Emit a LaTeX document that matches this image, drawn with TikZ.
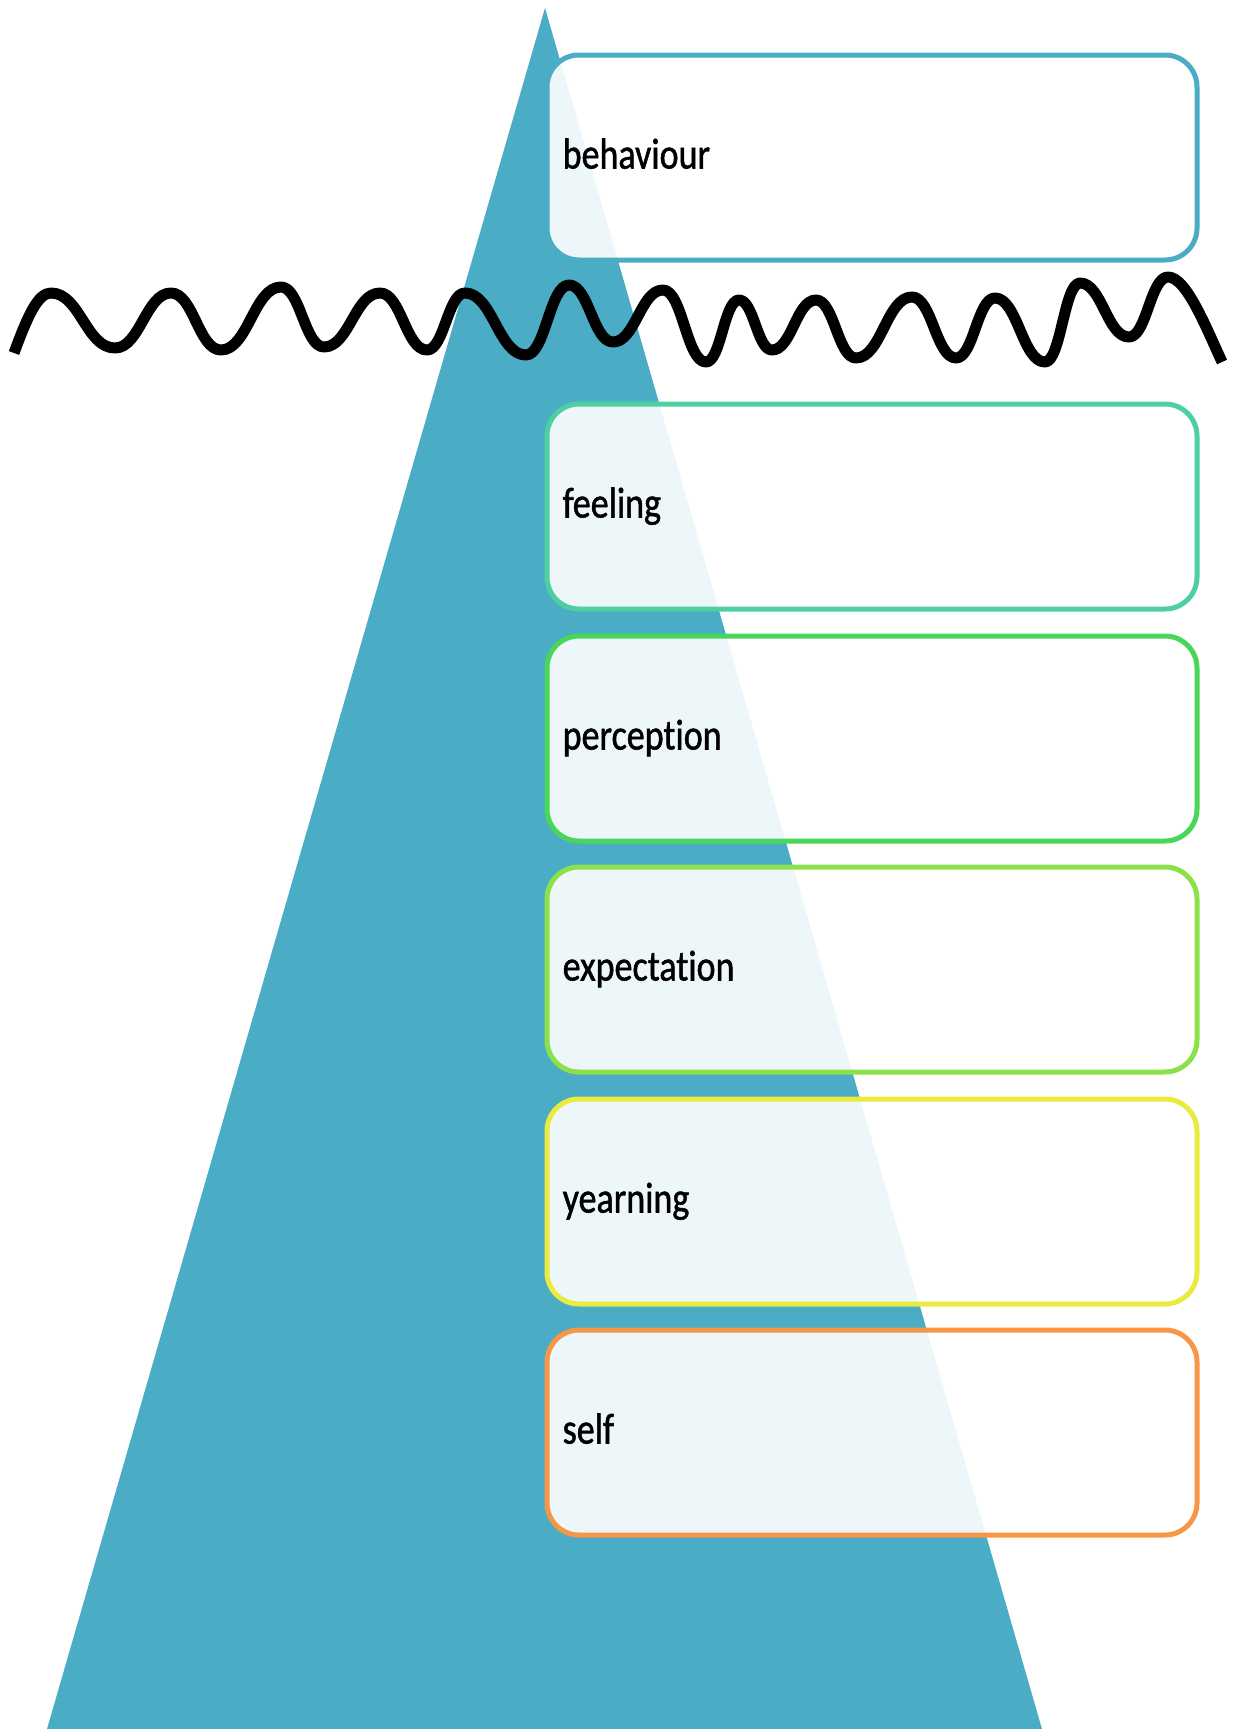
\documentclass[tikz,border=0pt]{standalone}
\usepackage{fontspec}
\setmainfont{Carlito}[Ligatures=NoCommon, FakeBold=1.3]
\definecolor{tri}{HTML}{4BACC6}
\definecolor{cbeh}{HTML}{4BACC6}
\definecolor{cfee}{HTML}{4ECFA2}
\definecolor{cper}{HTML}{4AD65A}
\definecolor{cexp}{HTML}{8CE04A}
\definecolor{cyea}{HTML}{EBEA3E}
\definecolor{csel}{HTML}{F79646}
\tikzset{
  levelbox/.style={draw=#1, line width=5pt, rounded corners=32pt,
    fill=white, fill opacity=0.9, draw opacity=1, text opacity=1,
    minimum width=650pt, minimum height=205pt, inner sep=0pt},
  lbl/.style={anchor=base west, inner sep=0pt, font=\fontsize{36}{43}\selectfont},
  wave/.style={draw=black, line width=11pt, line cap=butt, line join=round}
}
\newcommand{\stretchtxt}[1]{\scalebox{1}[1.2]{#1}}
\begin{document}
\begin{tikzpicture}[x=1pt,y=-1pt]
\useasboundingbox (0,0) rectangle (1238,1729);
\fill[tri] (545,8) -- (47,1729) -- (1042,1729) -- cycle;
\node[levelbox=cbeh] (b1) at (872,157.5) {};
\node[levelbox=cfee] (b2) at (872,506.5) {};
\node[levelbox=cper] (b3) at (872,738.5) {};
\node[levelbox=cexp] (b4) at (872,969.5) {};
\node[levelbox=cyea] (b5) at (872,1201.5) {};
\node[levelbox=csel] (b6) at (872,1432.5) {};
\node[lbl] (l1) at ([xshift=18pt,yshift=-11pt]b1.west) {\stretchtxt{behaviour}};
\node[lbl] (l2) at ([xshift=18pt,yshift=-11pt]b2.west) {\stretchtxt{feeling}};
\node[lbl] (l3) at ([xshift=18pt,yshift=-11pt]b3.west) {\stretchtxt{perception}};
\node[lbl] (l4) at ([xshift=18pt,yshift=-11pt]b4.west) {\stretchtxt{expectation}};
\node[lbl] (l5) at ([xshift=18pt,yshift=-11pt]b5.west) {\stretchtxt{yearning}};
\node[lbl] (l6) at ([xshift=18pt,yshift=-11pt]b6.west) {\stretchtxt{self}};
\draw[wave] (14,353) .. controls (28,315) and (38,293) .. (51,293)
 .. controls (80,293) and (86,348) .. (115,348)
 .. controls (140,348) and (146,293) .. (171,293)
 .. controls (193.5,293) and (198.5,350) .. (221,350)
 .. controls (248,350) and (254,287) .. (281,287)
 .. controls (300.4,287) and (304.6,347) .. (324,347)
 .. controls (349.2,347) and (354.8,293) .. (380,293)
 .. controls (401.2,293) and (405.8,350) .. (427,350)
 .. controls (444.1,350) and (447.9,293) .. (465,293)
 .. controls (492.5,293) and (498.5,355) .. (526,355)
 .. controls (545.4,355) and (549.6,285) .. (569,285)
 .. controls (588.8,285) and (593.2,342) .. (613,342)
 .. controls (635.5,342) and (640.5,290) .. (663,290)
 .. controls (682.4,290) and (686.6,362) .. (706,362)
 .. controls (720.9,362) and (724.1,300) .. (739,300)
 .. controls (753.9,300) and (757.1,350) .. (772,350)
 .. controls (791.8,350) and (796.2,300) .. (816,300)
 .. controls (834,300) and (838,358) .. (856,358)
 .. controls (881.2,358) and (886.8,297) .. (912,297)
 .. controls (931.8,297) and (936.2,358) .. (956,358)
 .. controls (973.6,358) and (977.4,298) .. (995,298)
 .. controls (1017.5,298) and (1022.5,362) .. (1045,362)
 .. controls (1060.8,362) and (1064.2,283) .. (1080,283)
 .. controls (1102,283) and (1107,337) .. (1129,337)
 .. controls (1146.6,337) and (1150.4,277) .. (1168,277)
 .. controls (1186,277) and (1205,325) .. (1222,362);
\end{tikzpicture}
\end{document}
